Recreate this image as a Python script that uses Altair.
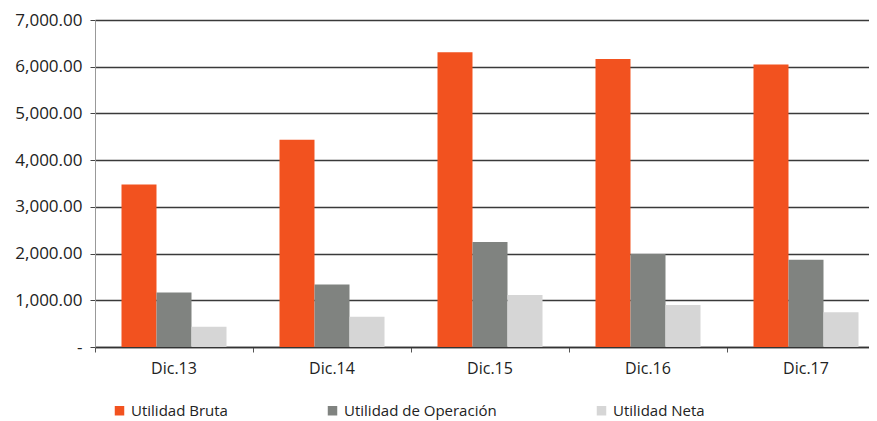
import altair as alt
import pandas as pd

periodos = ["Dic.13", "Dic.14", "Dic.15", "Dic.16", "Dic.17"]
series = ["Utilidad Bruta", "Utilidad de Operación", "Utilidad Neta"]
utilidad_bruta = [3480, 4435, 6310, 6165, 6050]
utilidad_operacion = [1165, 1340, 2250, 1990, 1870]
utilidad_neta = [435, 645, 1115, 900, 745]
colores = ["#F2521F", "#808380", "#D6D6D6"]
y_ticks = [0, 1000, 2000, 3000, 4000, 5000, 6000, 7000]

rows = []
for serie, vals in zip(series, [utilidad_bruta, utilidad_operacion, utilidad_neta]):
    for p, v in zip(periodos, vals):
        rows.append({"periodo": p, "serie": serie, "valor": v})
df = pd.DataFrame(rows)

FONT = "Open Sans"

chart = (
    alt.Chart(df)
    .mark_bar(strokeWidth=0)
    .encode(
        x=alt.X(
            "periodo:N",
            sort=periodos,
            title=None,
            scale=alt.Scale(range=[0, 790], paddingInner=0, paddingOuter=0),
            axis=alt.Axis(
                labelAngle=0,
                bandPosition=0,
                labelFont=FONT,
                labelFontSize=16,
                labelColor="#222222",
                labelPadding=8,
                tickSize=5,
                tickColor="#555555",
                domainColor="#333333",
                domainWidth=1.5,
                grid=False,
            ),
        ),
        xOffset=alt.XOffset(
            "serie:N",
            sort=series,
            scale=alt.Scale(paddingInner=0, paddingOuter=0.757),
        ),
        y=alt.Y(
            "valor:Q",
            title=None,
            scale=alt.Scale(domain=[0, 7000], nice=False),
            axis=alt.Axis(
                values=y_ticks,
                labelExpr="datum.value == 0 ? '-\u00a0\u00a0\u00a0\u00a0' : format(datum.value, ',.2f')",
                labelFont=FONT,
                labelFontSize=17,
                labelColor="#222222",
                labelPadding=8,
                tickSize=5,
                tickColor="#444444",
                domainColor="#999999",
                domainWidth=1,
                gridColor="#3a3a3a",
                gridWidth=1.3,
            ),
        ),
        color=alt.Color(
            "serie:N",
            sort=series,
            scale=alt.Scale(domain=series, range=colores),
            legend=alt.Legend(
                title=None,
                orient="none",
                legendX=17,
                legendY=383,
                direction="horizontal",
                columns=3,
                columnPadding=97,
                padding=0,
                symbolType="square",
                symbolSize=90,
                symbolStrokeWidth=0,
                labelOffset=4,
                labelFont=FONT,
                labelFontSize=15,
                labelColor="#222222",
                labelLimit=300,
            ),
        ),
    )
    .properties(
        width=774,
        height=327,
        autosize=alt.AutoSizeParams(type="none"),
        padding={"left": 87, "top": 12, "right": 0, "bottom": 74},
        background="white",
    )
    .configure_view(stroke=None)
)

chart.save("out.html", embed_options={"renderer": "svg", "actions": False})
